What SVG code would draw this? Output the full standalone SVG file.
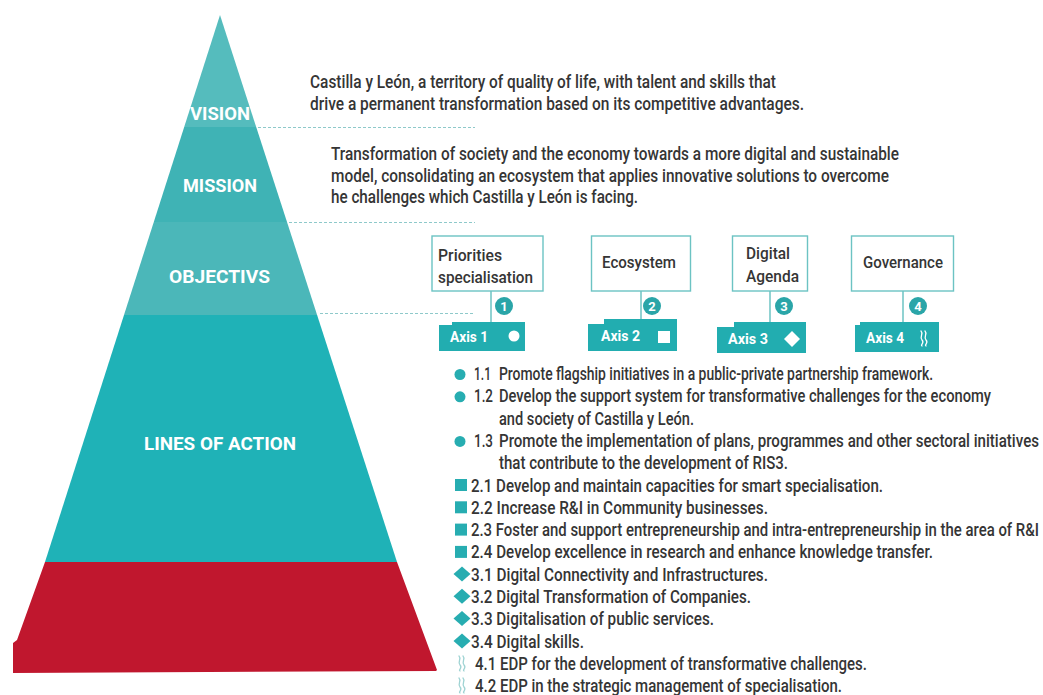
<svg xmlns="http://www.w3.org/2000/svg" width="1043" height="695" viewBox="0 0 1043 695">
  <defs>
    <style>
      .lvl { font-family: Roboto, "Liberation Sans", sans-serif; font-weight: 700; font-size: 18px; fill: #ffffff; }
      .body { font-family: Roboto, "Liberation Sans", sans-serif; font-weight: 500; font-size: 17.5px; fill: #353535; }
      .box { fill: #ffffff; stroke: #6cc3c3; stroke-width: 1.4; }
      .boxtxt { font-family: Roboto, "Liberation Sans", sans-serif; font-weight: 500; font-size: 17px; fill: #353535; }
      .tab { fill: #22adb0; }
      .tabtxt { font-family: Roboto, "Liberation Sans", sans-serif; font-weight: 700; font-size: 14px; fill: #ffffff; }
      .num { fill: #2aa5a8; }
      .numtxt { font-family: Roboto, "Liberation Sans", sans-serif; font-weight: 700; font-size: 13px; fill: #ffffff; text-anchor: middle; }
      .dash { stroke: #8ec9ca; stroke-width: 1; stroke-dasharray: 3 2; fill: none; }
      .stem { stroke: #6cc3c3; stroke-width: 1.5; fill: none; }
      .bullet { fill: #27adb1; }
      .wave { fill: none; stroke: #9fd3d3; stroke-width: 1.3; stroke-linecap: round; }
      .wavew { fill: none; stroke: #ffffff; stroke-width: 1.3; stroke-linecap: round; }
    </style>
    <!-- double wavy glyph used for axis 4 -->
    <g id="wave">
      <path class="wave" d="M -2 -7 C 1 -4 -4 -1 -1 2 C 2 5 -3 7 -1 8"/>
      <path class="wave" d="M 2 -7 C 5 -4 0 -1 3 2 C 6 5 1 7 3 8"/>
    </g>
  </defs>

  <rect width="1043" height="695" fill="#ffffff"/>

  <!-- pyramid bands -->
  <g id="pyramid">
    <polygon points="220,15 256.2,127 184.2,127" fill="#55bcbd"/>
    <polygon points="184.2,127 256.2,127 287,222 153.8,222" fill="#3fb3b5"/>
    <polygon points="153.8,222 287,222 317.1,315 124,315" fill="#4bb7b9"/>
    <polygon points="124,315 317.1,315 397,562 45,562" fill="#1fb2b7"/>
    <polygon points="45,562 397,562 437,670 436,671 13,673 13,643 17,640" fill="#c0172e"/>
  </g>

  <g id="level-labels">
    <text class="lvl" x="190" y="120" textLength="60" lengthAdjust="spacingAndGlyphs">VISION</text>
    <text class="lvl" x="183" y="192" textLength="74" lengthAdjust="spacingAndGlyphs">MISSION</text>
    <text class="lvl" x="169" y="283" textLength="101" lengthAdjust="spacingAndGlyphs">OBJECTIVS</text>
    <text class="lvl" x="144" y="450" textLength="152" lengthAdjust="spacingAndGlyphs">LINES OF ACTION</text>
  </g>

  <!-- connectors: level separators and stems -->
  <g id="connectors">
    <line class="dash" x1="258" y1="127.5" x2="475" y2="127.5"/>
    <line class="dash" x1="289" y1="222.5" x2="475" y2="222.5"/>
    <line class="dash" x1="320" y1="313.5" x2="475" y2="313.5"/>
    <line class="stem" x1="491" y1="291" x2="491" y2="322"/>
    <line class="stem" x1="641" y1="291" x2="641" y2="319"/>
    <line class="stem" x1="770" y1="291" x2="770" y2="322"/>
    <line class="stem" x1="903" y1="291" x2="903" y2="322"/>
  </g>

  <g id="vision">
    <text class="body" x="310" y="88" textLength="466" lengthAdjust="spacingAndGlyphs">Castilla y León, a territory of quality of life, with talent and skills that</text>
    <text class="body" x="310" y="110" textLength="494" lengthAdjust="spacingAndGlyphs">drive a permanent transformation based on its competitive advantages.</text>
  </g>

  <g id="mission">
    <text class="body" x="331" y="160" textLength="568" lengthAdjust="spacingAndGlyphs">Transformation of society and the economy towards a more digital and sustainable</text>
    <text class="body" x="331" y="182" textLength="558" lengthAdjust="spacingAndGlyphs">model, consolidating an ecosystem that applies innovative solutions to overcome</text>
    <text class="body" x="331" y="203" textLength="307" lengthAdjust="spacingAndGlyphs">he challenges which Castilla y León is facing.</text>
  </g>

  <!-- objectives -->
  <g id="obj-1">
    <rect class="box" x="432" y="236" width="111" height="55"/>
    <text class="boxtxt" x="438" y="261" textLength="64" lengthAdjust="spacingAndGlyphs">Priorities</text>
    <text class="boxtxt" x="438" y="283" textLength="95" lengthAdjust="spacingAndGlyphs">specialisation</text>
    <circle class="num" cx="504" cy="306" r="9"/>
    <text class="numtxt" x="504" y="310.5">1</text>
  </g>
  <g id="obj-2">
    <rect class="box" x="591.5" y="236" width="99" height="55"/>
    <text class="boxtxt" x="602" y="268" textLength="74" lengthAdjust="spacingAndGlyphs">Ecosystem</text>
    <circle class="num" cx="652" cy="306" r="9"/>
    <text class="numtxt" x="652" y="310.5">2</text>
  </g>
  <g id="obj-3">
    <rect class="box" x="732.5" y="236" width="75" height="55"/>
    <text class="boxtxt" x="746" y="259" textLength="44" lengthAdjust="spacingAndGlyphs">Digital</text>
    <text class="boxtxt" x="746" y="282" textLength="53" lengthAdjust="spacingAndGlyphs">Agenda</text>
    <circle class="num" cx="784" cy="306" r="9"/>
    <text class="numtxt" x="784" y="310.5">3</text>
  </g>
  <g id="obj-4">
    <rect class="box" x="851.5" y="236" width="102" height="55"/>
    <text class="boxtxt" x="863" y="268" textLength="80" lengthAdjust="spacingAndGlyphs">Governance</text>
    <circle class="num" cx="918" cy="306" r="9"/>
    <text class="numtxt" x="918" y="310.5">4</text>
  </g>

  <!-- axis tabs -->
  <g id="axis-1">
    <polygon class="tab" points="439,325 452,325 452,322 525,322 525,351 439,351"/>
    <text class="tabtxt" x="450" y="342" textLength="38" lengthAdjust="spacingAndGlyphs">Axis 1</text>
    <circle cx="514" cy="336" r="5.5" fill="#ffffff"/>
  </g>
  <g id="axis-2">
    <polygon class="tab" points="588,324 604,324 604,319 677,319 677,351 588,351"/>
    <text class="tabtxt" x="601" y="341" textLength="39" lengthAdjust="spacingAndGlyphs">Axis 2</text>
    <rect x="658" y="331" width="12" height="12" fill="#ffffff"/>
  </g>
  <g id="axis-3">
    <polygon class="tab" points="717,327 734,327 734,322 806,322 806,353 717,353"/>
    <text class="tabtxt" x="728" y="344" textLength="40" lengthAdjust="spacingAndGlyphs">Axis 3</text>
    <polygon points="792,331 800,339 792,347 784,339" fill="#ffffff"/>
  </g>
  <g id="axis-4">
    <polygon class="tab" points="855,325 860,325 860,322 939,322 939,352 855,352"/>
    <text class="tabtxt" x="866" y="343" textLength="38" lengthAdjust="spacingAndGlyphs">Axis 4</text>
    <g transform="translate(923,338)">
      <path class="wavew" d="M -2 -7 C 1 -4 -4 -1 -1 2 C 2 5 -3 7 -1 8"/>
      <path class="wavew" d="M 2 -7 C 5 -4 0 -1 3 2 C 6 5 1 7 3 8"/>
    </g>
  </g>

  <!-- lines of action -->
  <g id="axis-1-lines">
    <circle class="bullet" cx="460" cy="374.5" r="5.5"/>
    <text class="body" x="474" y="380" textLength="17" lengthAdjust="spacingAndGlyphs">1.1</text>
    <text class="body" x="499" y="380" textLength="434" lengthAdjust="spacingAndGlyphs">Promote flagship initiatives in a public-private partnership framework.</text>
    <circle class="bullet" cx="460" cy="396.8" r="5.5"/>
    <text class="body" x="474" y="402.3" textLength="19" lengthAdjust="spacingAndGlyphs">1.2</text>
    <text class="body" x="499" y="402.3" textLength="492" lengthAdjust="spacingAndGlyphs">Develop the support system for transformative challenges for the economy</text>
    <text class="body" x="499" y="424.6" textLength="195" lengthAdjust="spacingAndGlyphs">and society of Castilla y León.</text>
    <circle class="bullet" cx="460" cy="441.4" r="5.5"/>
    <text class="body" x="474" y="446.9" textLength="19" lengthAdjust="spacingAndGlyphs">1.3</text>
    <text class="body" x="499" y="446.9" textLength="540" lengthAdjust="spacingAndGlyphs">Promote the implementation of plans, programmes and other sectoral initiatives</text>
    <text class="body" x="499" y="469.2" textLength="289" lengthAdjust="spacingAndGlyphs">that contribute to the development of RIS3.</text>
  </g>
  <g id="axis-2-lines">
    <rect class="bullet" x="455" y="479" width="12" height="12"/>
    <text class="body" x="471" y="491.5" textLength="412" lengthAdjust="spacingAndGlyphs">2.1 Develop and maintain capacities for smart specialisation.</text>
    <rect class="bullet" x="455" y="501.3" width="12" height="12"/>
    <text class="body" x="471" y="513.8" textLength="297" lengthAdjust="spacingAndGlyphs">2.2 Increase R&amp;I in Community businesses.</text>
    <rect class="bullet" x="455" y="523.6" width="12" height="12"/>
    <text class="body" x="471" y="536.1" textLength="568" lengthAdjust="spacingAndGlyphs">2.3 Foster and support entrepreneurship and intra-entrepreneurship in the area of R&amp;I</text>
    <rect class="bullet" x="455" y="545.9" width="12" height="12"/>
    <text class="body" x="471" y="558.4" textLength="462" lengthAdjust="spacingAndGlyphs">2.4 Develop excellence in research and enhance knowledge transfer.</text>
  </g>
  <g id="axis-3-lines">
    <polygon class="bullet" points="462,566.5 470.5,574 462,581.5 453.5,574"/>
    <text class="body" x="471" y="580.7" textLength="297" lengthAdjust="spacingAndGlyphs">3.1 Digital Connectivity and Infrastructures.</text>
    <polygon class="bullet" points="462,588.8 470.5,596.3 462,603.8 453.5,596.3"/>
    <text class="body" x="471" y="603" textLength="280" lengthAdjust="spacingAndGlyphs">3.2 Digital Transformation of Companies.</text>
    <polygon class="bullet" points="462,611.1 470.5,618.6 462,626.1 453.5,618.6"/>
    <text class="body" x="471" y="625.3" textLength="243" lengthAdjust="spacingAndGlyphs">3.3 Digitalisation of public services.</text>
    <polygon class="bullet" points="462,633.4 470.5,640.9 462,648.4 453.5,640.9"/>
    <text class="body" x="471" y="647.6" textLength="113" lengthAdjust="spacingAndGlyphs">3.4 Digital skills.</text>
  </g>
  <g id="axis-4-lines">
    <use href="#wave" x="461" y="663"/>
    <text class="body" x="475" y="669.9" textLength="392" lengthAdjust="spacingAndGlyphs">4.1 EDP for the development of transformative challenges.</text>
    <use href="#wave" x="461" y="685"/>
    <text class="body" x="475" y="692.2" textLength="367" lengthAdjust="spacingAndGlyphs">4.2 EDP in the strategic management of specialisation.</text>
  </g>
</svg>
